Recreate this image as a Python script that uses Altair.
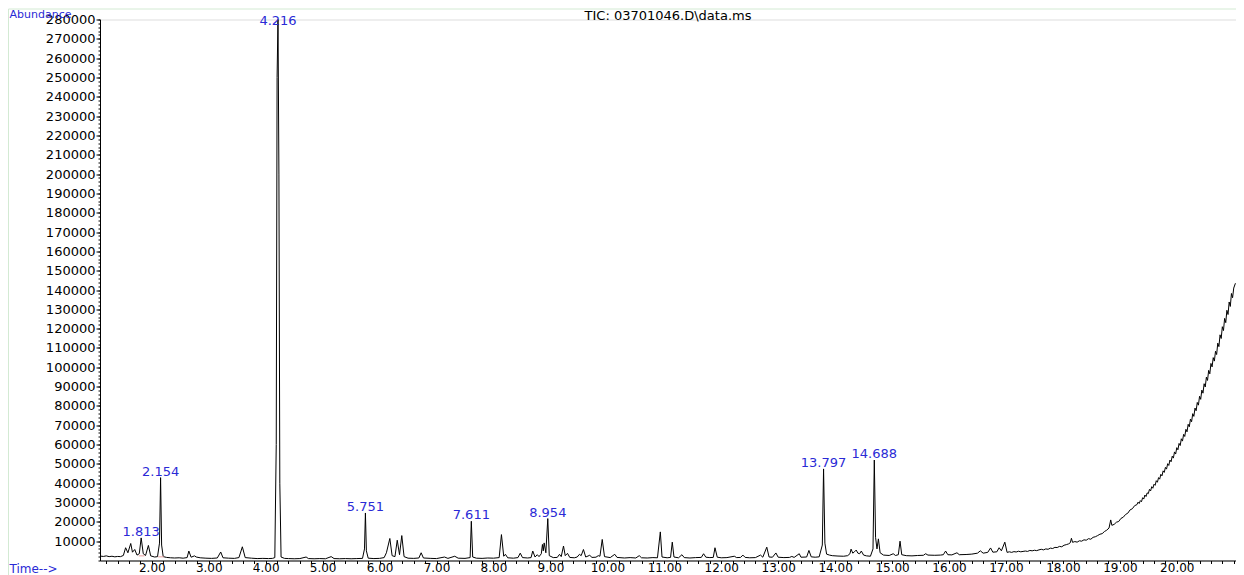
import altair as alt
import pandas as pd

# ---- TIC trace: (retention time [min], abundance) ----
seg_early = [
    (1.09, 2300), (1.15, 2100), (1.20, 2400), (1.25, 2000), (1.30, 2200), (1.35, 1900), (1.40, 2100),
    (1.45, 2000), (1.50, 2600), (1.54, 6600), (1.58, 4000), (1.63, 8800), (1.66, 4300), (1.70, 5700),
    (1.74, 2800), (1.78, 3500), (1.813, 11700), (1.85, 3500), (1.89, 2600), (1.94, 7800), (1.98, 2400),
    (2.05, 1800), (2.10, 2000), (2.135, 9000), (2.154, 42900), (2.172, 8000), (2.20, 2000), (2.26, 1600),
    (2.33, 1400), (2.40, 1300), (2.48, 1400), (2.55, 1200), (2.62, 1500), (2.65, 4900), (2.69, 1700),
    (2.75, 2400), (2.78, 1800), (2.85, 1400), (2.95, 1200), (3.05, 1100), (3.15, 1300), (3.21, 4400),
    (3.25, 1400), (3.35, 1200), (3.45, 1100), (3.53, 1500), (3.59, 7100), (3.64, 1500), (3.75, 1200),
    (3.85, 1000), (3.95, 1100), (4.05, 1000), (4.12, 1100), (4.16, 1500), (4.185, 60000), (4.20, 250000),
    (4.216, 281000), (4.232, 200000), (4.248, 40000), (4.27, 1800), (4.33, 1100), (4.40, 1000),
]
seg_mid = [
    (4.50, 900), (4.60, 1000), (4.71, 1800), (4.75, 1000), (4.85, 900), (4.95, 1000), (5.05, 900),
    (5.15, 2000), (5.20, 1000), (5.30, 900), (5.40, 1000), (5.50, 900), (5.60, 1000), (5.70, 1100),
    (5.735, 6000), (5.751, 24600), (5.768, 5000), (5.80, 1200), (5.90, 1000), (6.00, 1100), (6.08, 1500),
    (6.12, 4000), (6.18, 11400), (6.22, 2500), (6.27, 2000), (6.31, 10500), (6.35, 3000), (6.39, 12900),
    (6.43, 2000), (6.50, 1200), (6.60, 1100), (6.69, 1300), (6.73, 4000), (6.77, 1300), (6.90, 1100),
    (7.00, 1000), (7.14, 1800), (7.20, 1100), (7.32, 2200), (7.38, 1200), (7.50, 1100), (7.59, 1500),
    (7.611, 20300), (7.635, 1800), (7.70, 1200), (7.80, 1100), (7.90, 1300), (8.00, 1200), (8.10, 1500),
    (8.14, 13400), (8.18, 2200), (8.21, 3200), (8.25, 1400), (8.35, 1200), (8.43, 1500), (8.47, 3800),
    (8.51, 1500), (8.60, 1300), (8.66, 1500), (8.69, 4900), (8.73, 1800), (8.77, 3000), (8.80, 2000),
    (8.84, 3500), (8.86, 8300), (8.875, 5000), (8.89, 9100), (8.92, 4000), (8.954, 21700), (8.98, 2500),
    (9.05, 1500), (9.12, 1600), (9.16, 3200), (9.19, 2000), (9.23, 7500), (9.26, 2500), (9.30, 3700),
    (9.34, 1600), (9.42, 1400), (9.47, 1800), (9.51, 3200), (9.54, 2500), (9.58, 5700), (9.62, 1800),
    (9.69, 2700), (9.73, 1600), (9.80, 1700), (9.84, 2500), (9.87, 2200), (9.91, 10900), (9.95, 2000),
]
seg_late = [
    (10.05, 1500), (10.13, 3200), (10.17, 1600), (10.30, 1300), (10.40, 1500), (10.50, 1300), (10.56, 2500),
    (10.60, 1400), (10.70, 1300), (10.80, 1500), (10.88, 1400), (10.93, 14800), (10.96, 1800), (11.05, 1400),
    (11.11, 1600), (11.14, 9500), (11.17, 1800), (11.25, 1400), (11.31, 3000), (11.35, 1500), (11.45, 1300),
    (11.55, 1500), (11.65, 1600), (11.69, 3500), (11.73, 1700), (11.80, 1500), (11.86, 1600), (11.89, 6600),
    (11.93, 1700), (12.00, 1400), (12.10, 1500), (12.23, 2200), (12.27, 1500), (12.34, 1600), (12.38, 2800),
    (12.42, 1600), (12.50, 1400), (12.60, 1500), (12.69, 2800), (12.73, 1700), (12.80, 6900), (12.84, 1800),
    (12.90, 1700), (12.96, 3900), (13.00, 1700), (13.10, 1500), (13.20, 1600), (13.24, 2100), (13.28, 1600),
    (13.37, 3500), (13.40, 1700), (13.50, 1800), (13.54, 5200), (13.58, 1900), (13.65, 1700), (13.72, 1900),
    (13.775, 8000), (13.797, 47400), (13.82, 9000), (13.85, 3300), (13.90, 2800), (13.95, 2500), (14.05, 2300),
    (14.15, 2200), (14.22, 2500), (14.26, 3500), (14.28, 5900), (14.31, 3800), (14.34, 4500), (14.37, 5400),
    (14.40, 3800), (14.43, 3500), (14.46, 4900), (14.50, 2800), (14.55, 2400), (14.62, 2200), (14.665, 6000),
    (14.688, 52000), (14.71, 12000), (14.735, 6000), (14.76, 11200), (14.79, 4000), (14.85, 2800), (14.95, 2600),
    (15.02, 3500), (15.06, 2600), (15.11, 3000), (15.14, 10000), (15.17, 3000), (15.25, 2500), (15.35, 2400),
    (15.45, 2600), (15.55, 2700), (15.59, 3500), (15.63, 2800), (15.75, 2700), (15.85, 2800), (15.90, 3000),
    (15.94, 4900), (15.98, 3000), (16.05, 2900), (16.14, 4000), (16.18, 3000), (16.30, 3100), (16.40, 3300),
    (16.50, 3800), (16.55, 5000), (16.60, 3800), (16.68, 4200), (16.73, 6500), (16.77, 4300), (16.84, 4500),
    (16.88, 6600), (16.92, 5000), (16.98, 9500), (17.02, 4200),
]
seg_rise = [
    (17.06, 4500), (17.10, 4200), (17.14, 4600), (17.18, 4400), (17.22, 4800), (17.26, 4500), (17.30, 4700),
    (17.34, 4900), (17.38, 4700), (17.42, 5200), (17.46, 5000), (17.50, 5300), (17.54, 5100), (17.58, 5500),
    (17.62, 5800), (17.66, 5500), (17.70, 6000), (17.74, 5800), (17.78, 6400), (17.82, 6200), (17.86, 6800),
    (17.90, 6700), (17.94, 7300), (17.98, 7100), (18.02, 7900), (18.06, 8200), (18.10, 8600), (18.13, 9200),
    (18.15, 11500), (18.17, 9400), (18.21, 9800), (18.25, 9500), (18.29, 10200), (18.33, 10000), (18.37, 10700),
    (18.41, 10500), (18.45, 11300), (18.49, 11000), (18.53, 12000), (18.57, 12300), (18.61, 12900), (18.65, 13600),
    (18.69, 13900), (18.73, 15000), (18.77, 15700), (18.81, 16800), (18.84, 21000), (18.86, 18200), (18.90, 18700),
    (18.94, 19800), (18.98, 20200), (19.02, 21800), (19.06, 22400), (19.10, 23800), (19.14, 24500), (19.18, 26200),
    (19.22, 26800), (19.26, 28400),
]
seg_tail = [
    (19.30, 28900), (19.32, 30200), (19.34, 29500), (19.36, 31000), (19.38, 30400), (19.40, 32500), (19.42, 31800),
    (19.44, 33900), (19.46, 33100), (19.48, 35000), (19.50, 34600), (19.52, 36800), (19.54, 36000), (19.56, 38200),
    (19.58, 37400), (19.60, 39500), (19.62, 38900), (19.64, 41300), (19.66, 40500), (19.68, 42900), (19.70, 42100),
    (19.72, 44600), (19.74, 43800), (19.76, 46400), (19.78, 45600), (19.80, 48200), (19.82, 47300), (19.84, 50100),
    (19.86, 49200), (19.88, 52000), (19.90, 51100), (19.92, 54000), (19.94, 53000), (19.96, 56200), (19.98, 55100),
    (20.00, 58400), (20.02, 57300), (20.04, 60600), (20.06, 59500), (20.08, 63000), (20.10, 61800), (20.12, 65300),
    (20.14, 64200), (20.16, 67900), (20.18, 66600), (20.20, 70500), (20.22, 69200), (20.24, 73200), (20.26, 71800),
    (20.28, 76000), (20.30, 74600), (20.32, 78900), (20.34, 77500), (20.36, 81800), (20.38, 80400), (20.40, 85000),
    (20.42, 83400), (20.44, 88200), (20.46, 86600), (20.48, 91500), (20.50, 89800), (20.52, 94900), (20.54, 93200),
    (20.56, 98400), (20.58, 96600), (20.60, 102000), (20.62, 100200), (20.64, 105000), (20.66, 103200),
    (20.68, 108300), (20.70, 106600), (20.72, 112500), (20.74, 110700), (20.76, 116800), (20.78, 114900),
    (20.80, 121000), (20.82, 119000), (20.84, 125300), (20.86, 123100), (20.88, 129500), (20.90, 127300),
    (20.92, 133800), (20.94, 131500), (20.96, 138200), (20.98, 136000), (21.00, 141000), (21.03, 143500),
]

# ---- labelled peaks ----
peak_times = [1.813, 2.154, 4.216, 5.751, 7.611, 8.954, 13.797, 14.688]
peak_texts = ["1.813", "2.154", "4.216", "5.751", "7.611", "8.954", "13.797", "14.688"]
peak_label_y = [11700, 42900, 276000, 24600, 20300, 21700, 47400, 52000]

# ---- integration baselines (pink) ----
int_start = [1.77, 2.11]
int_end = [1.87, 2.21]
int_level = [2400, 1900]

# ---- axis tick values ----
x_major = [float(v) for v in range(2, 21)]
x_minor = [round(1.2 + 0.2 * i, 1) for i in range(100)]
y_major = [10000 * i for i in range(1, 29)]
y_minor = [2000 * i for i in range(0, 141)]

trace = seg_early + seg_mid + seg_late + seg_rise + seg_tail
df = pd.DataFrame(trace, columns=["time", "abundance"])
peaks = pd.DataFrame({"time": peak_times, "label": peak_texts, "abundance": peak_label_y})
integ = pd.DataFrame({"time": int_start, "time2": int_end, "abundance": int_level})

W, H = 1136, 541
FONT = "DejaVu Sans"
BLUE = "#2a2ad6"

xs = alt.Scale(domain=[1.09, 21.04], nice=False, zero=False)
ys = alt.Scale(domain=[0, 280000], nice=False, zero=True)

x_axis = alt.Axis(
    orient="bottom", values=x_major, format=".2f",
    tickSize=3, labelPadding=-1, labelFont=FONT, labelFontSize=12, labelColor="black",
    labelOverlap=False, labelFlush=False,
    domainColor="black", tickColor="black", grid=False,
    title="Time-->", titleColor=BLUE, titleFont=FONT, titleFontSize=12, titleFontWeight="normal",
    titleAlign="left", titleBaseline="middle", titleAnchor="start", titleX=-91, titleY=8,
)
x_axis_minor = alt.Axis(
    orient="bottom", values=x_minor, labels=False, tickSize=3, domain=False,
    tickColor="black", grid=False, title=None,
)
y_axis = alt.Axis(
    orient="left", values=y_major, format="d",
    tickSize=4, labelPadding=1, labelFont=FONT, labelFontSize=13, labelColor="black",
    labelOverlap=False, labelFlush=False,
    domainColor="black", tickColor="black", grid=False,
    title="Abundance", titleColor=BLUE, titleFont=FONT, titleFontSize=11, titleFontWeight="normal",
    titleAngle=0, titleAlign="left", titleBaseline="middle", titleAnchor="start", titleX=-91, titleY=-5.5,
)
y_axis_minor = alt.Axis(
    orient="left", values=y_minor, labels=False, tickSize=2, domain=False,
    tickColor="black", grid=False, title=None,
)

frame = alt.Chart(pd.DataFrame({"k": [0]})).mark_rect(
    fill="transparent", stroke="#d3ead3", strokeWidth=1
).encode(
    x=alt.value(-91.5), x2=alt.value(W + 20), y=alt.value(-10.5), y2=alt.value(H + 40)
)

line = alt.Chart(df).mark_line(color="black", strokeWidth=1, clip=True).encode(
    x=alt.X("time:Q", scale=xs, axis=x_axis),
    y=alt.Y("abundance:Q", scale=ys, axis=y_axis),
    order="time:Q",
)

integ_marks = alt.Chart(integ).mark_rule(color="#e8a0a0", strokeWidth=1).encode(
    x=alt.X("time:Q", scale=xs, axis=x_axis_minor),
    x2="time2:Q",
    y=alt.Y("abundance:Q", scale=ys, axis=y_axis_minor),
)

labels = alt.Chart(peaks).mark_text(
    color=BLUE, font=FONT, fontSize=13, baseline="alphabetic", align="center", dy=-2
).encode(
    x=alt.X("time:Q", scale=xs, axis=None),
    y=alt.Y("abundance:Q", scale=ys, axis=None),
    text="label:N",
)

chart = alt.layer(frame, line, integ_marks, labels).resolve_axis(
    x="independent", y="independent"
).properties(
    width=W, height=H,
    title=alt.TitleParams(
        text="TIC: 03701046.D\\data.ms", font=FONT, fontSize=13, fontWeight="normal",
        color="black", anchor="middle", offset=-15,
    ),
    autosize=alt.AutoSizeParams(type="none"),
    padding={"left": 92, "top": 11.5, "right": 0, "bottom": 14.5},
).configure_view(strokeWidth=0).configure(background="white")

chart.save("out.html", embed_options={"renderer": "svg", "actions": False})
